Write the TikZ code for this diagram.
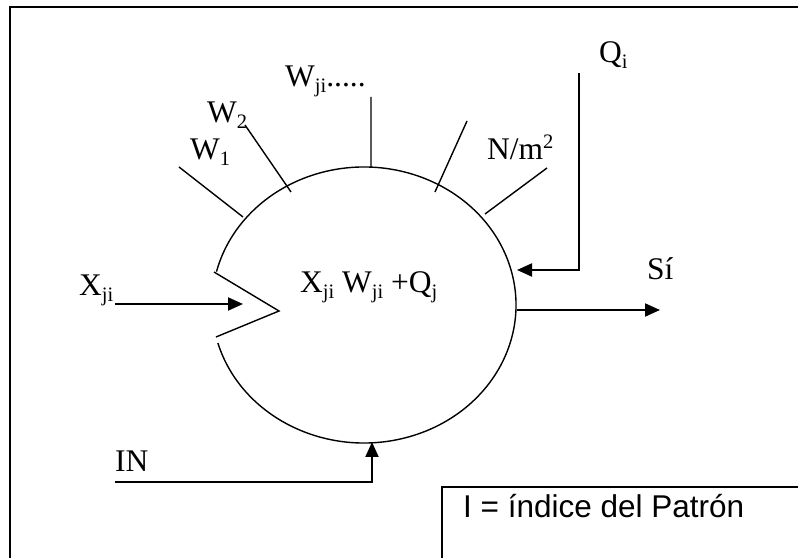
\documentclass[tikz,border=0pt]{standalone}
\usepackage{fontspec}
\setmainfont{Liberation Serif}
\newfontfamily\arialfont{Liberation Sans}
\usetikzlibrary{arrows.meta}
\newcommand{\subs}[1]{\raisebox{-0.16em}{\fontsize{20.5}{21}\selectfont #1}}
\newcommand{\sups}[1]{\raisebox{0.36em}{\fontsize{20.5}{21}\selectfont #1}}
\begin{document}
\begin{tikzpicture}[x=1pt, y=1pt, line cap=butt, line join=miter, >={Triangle[length=15pt,width=13pt]},
	every node/.style={font=\fontsize{31.5}{36}\selectfont, inner sep=0pt},
	lbl/.style={anchor=base west}, spoke/.style={line width=1.4pt}, flow/.style={line width=2pt}]
	\useasboundingbox (0,0) rectangle (798,557);
	\clip (0,0) rectangle (798,557);
	% frame and legend box
	\draw[line width=2.6pt] (10,-20) rectangle (830,550);
	\draw[line width=1.5pt] (442,70) rectangle (830,-20);
	\node[lbl] (legend) at (463,39) {\arialfont I = índice del Patrón};
	% neuron body with notch
	\coordinate (c) at (364,252);
	\coordinate (n1) at (214,285); \coordinate (n2) at (279,246); \coordinate (n3) at (216,220);
	\draw[spoke] (c) ++(196:152 and 138) arc[start angle=196, end angle=526, x radius=152, y radius=138];
	\draw[spoke] (n1) -- (n2) -- (n3);
	\node[lbl] (sum) at (300,264) {X\subs{ji} W\subs{ji} +Q\subs{j}};
	% weights
	\coordinate (s1a) at (179,390); \coordinate (s1b) at (243,340);
	\coordinate (s2a) at (245,432); \coordinate (s2b) at (291,365);
	\coordinate (s3a) at (371,460); \coordinate (s3b) at (371,390);
	\coordinate (s4a) at (467,436); \coordinate (s4b) at (435,365);
	\coordinate (s5a) at (547,389); \coordinate (s5b) at (485,343);
	\draw[spoke] (s1a) -- (s1b) (s2a) -- (s2b) (s3a) -- (s3b) (s4a) -- (s4b) (s5a) -- (s5b);
	\node[lbl] (w1) at (190,397) {W\subs{1}};
	\node[lbl] (w2) at (207,434) {W\subs{2}};
	\node[lbl] (wji) at (285,470) {W\subs{ji}.....};
	\node[lbl] (nm) at (487,397) {N/m\sups{2}};
	% threshold, input, output
	\node[lbl] (qi) at (599,494) {Q\subs{i}};
	\coordinate (qa) at (579,484); \coordinate (qb) at (579,287); \coordinate (qc) at (517,287);
	\draw[flow,->] (qa) -- (qb) -- (qc);
	\node[lbl] (xji) at (79,261) {X\subs{ji}};
	\coordinate (xa) at (115,253); \coordinate (xb) at (243,253);
	\draw[flow,->] (xa) -- (xb);
	\node[lbl] (si) at (647,277) {Sí};
	\coordinate (sa) at (517,247); \coordinate (sb) at (660,247);
	\draw[flow,->] (sa) -- (sb);
	\node[lbl] (in) at (115,85) {IN};
	\coordinate (ia) at (115,75); \coordinate (ib) at (372,75); \coordinate (ic) at (372,115);
	\draw[flow,->] (ia) -- (ib) -- (ic);
\end{tikzpicture}
\end{document}
